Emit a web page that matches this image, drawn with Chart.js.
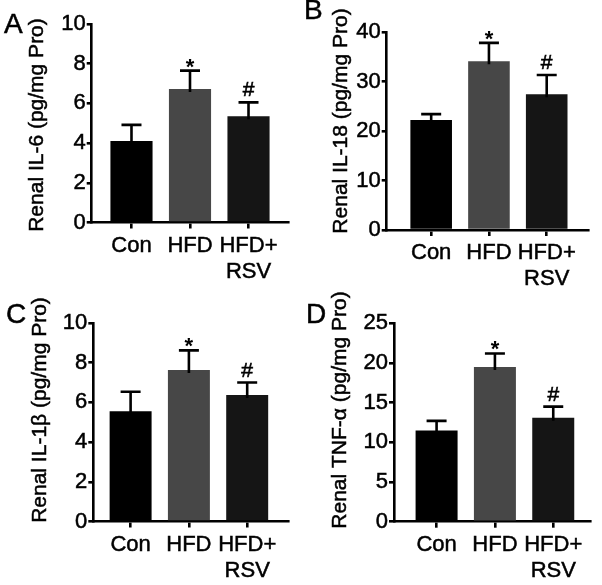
<!DOCTYPE html>
<html>
<head>
<meta charset="utf-8">
<script src="https://cdn.jsdelivr.net/npm/chart.js@4.4.0/dist/chart.umd.min.js"></script>
<style>
  html, body { margin: 0; padding: 0; background: #fff; }
  #wrap { position: relative; width: 602px; height: 585px; }
  #wrap canvas { position: absolute; }
</style>
</head>
<body>
<div id="wrap">
  <canvas id="chA" width="301" height="292" style="left:0;top:0"></canvas>
  <canvas id="chB" width="301" height="292" style="left:301px;top:0"></canvas>
  <canvas id="chC" width="301" height="293" style="left:0;top:292px"></canvas>
  <canvas id="chD" width="301" height="293" style="left:301px;top:292px"></canvas>
</div>
<script>
// ====== Datos ======
const categories = ['Con', 'HFD', ['HFD+', 'RSV']];
const marks = ['', '*', '#'];

const il6Mean  = [4.1, 6.72, 5.35];
const il6Sem   = [0.82, 0.93, 0.70];
const il6Ticks = [0, 2, 4, 6, 8, 10];

const il18Mean  = [22.2, 34.1, 27.4];
const il18Sem   = [1.2, 3.7, 3.9];
const il18Ticks = [0, 10, 20, 30, 40];

const il1bMean  = [5.56, 7.63, 6.37];
const il1bSem   = [0.98, 0.99, 0.63];
const il1bTicks = [0, 2, 4, 6, 8, 10];

const tnfMean  = [11.5, 19.5, 13.1];
const tnfSem   = [1.2, 1.7, 1.4];
const tnfTicks = [0, 5, 10, 15, 20, 25];

// ====== Estilo ======
const FONT = "'Liberation Sans', Arial, Helvetica, sans-serif";
Chart.defaults.font.family = FONT;
Chart.defaults.color = '#000';
const barColors = ['#000000', '#474747', '#151515'];
const LW = 2.6;
const TS = 0.5; // trazo extra del texto

// layout de cada panel (px dentro de su canvas)
const layoutA = { letter: 'A', lx: 4, ly: 33, tx: 37, ty: 125, left: 91.7, top: 24, bottom: 222.5, right: 288.3, xMin: 0.32, xMax: 3.68 };
const layoutB = { letter: 'B', lx: 3, ly: 19, tx: 40, ty: 121, left: 85.7, top: 32, bottom: 230, right: 287.3, xMin: 0.23, xMax: 3.72 };
const layoutC = { letter: 'C', lx: 6, ly: 31, tx: 40, ty: 118, left: 93.3, top: 31, bottom: 229.5, right: 288, xMin: 0.36, xMax: 3.70 };
const layoutD = { letter: 'D', lx: 5, ly: 31, tx: 39, ty: 118, left: 93, top: 31.3, bottom: 229.7, right: 289, xMin: 0.27, xMax: 3.63 };

function panel(id, p, title, means, sems, yTicks) {
  const canvas = document.getElementById(id);
  const W = canvas.width, H = canvas.height;

  const extras = {
    id: 'extras',
    afterDraw(chart) {
      const { ctx } = chart;
      const y = chart.scales.y;
      const bars = chart.getDatasetMeta(0).data;
      ctx.save();
      ctx.strokeStyle = '#000';
      ctx.fillStyle = '#000';
      bars.forEach((bar, i) => {
        const yMean = y.getPixelForValue(means[i]);
        const yTop = y.getPixelForValue(means[i] + sems[i]);
        ctx.lineWidth = LW;
        ctx.beginPath();
        ctx.moveTo(bar.x, yMean + 3);
        ctx.lineTo(bar.x, yTop);
        ctx.moveTo(bar.x - 10, yTop);
        ctx.lineTo(bar.x + 10, yTop);
        ctx.stroke();
        if (marks[i]) {
          ctx.textAlign = 'center';
          ctx.textBaseline = 'alphabetic';
          if (marks[i] === '*') {
            ctx.font = `bold 22px ${FONT}`;
            ctx.fillText('*', bar.x, yTop + 3);
          } else {
            ctx.font = `21px ${FONT}`;
            ctx.lineWidth = 0.6;
            ctx.fillText(marks[i], bar.x, yTop - 6);
            ctx.strokeText(marks[i], bar.x, yTop - 6);
          }
        }
      });
      ctx.lineWidth = TS;
      // letra del panel
      ctx.textAlign = 'left';
      ctx.textBaseline = 'alphabetic';
      ctx.font = `28px ${FONT}`;
      ctx.fillText(p.letter, p.lx, p.ly);
      ctx.strokeText(p.letter, p.lx, p.ly);
      // titulo del eje y
      ctx.translate(p.tx, p.ty);
      ctx.rotate(-Math.PI / 2);
      ctx.textAlign = 'center';
      ctx.textBaseline = 'middle';
      ctx.font = `21px ${FONT}`;
      ctx.fillText(title, 0, 0);
      ctx.strokeText(title, 0, 0);
      ctx.restore();
    }
  };

  return new Chart(canvas, {
    type: 'bar',
    data: {
      datasets: [{
        data: means.map((v, i) => ({ x: i + 1, y: v })),
        backgroundColor: barColors,
        borderWidth: 0,
        categoryPercentage: 1,
        barPercentage: 0.72
      }]
    },
    options: {
      responsive: false,
      animation: false,
      devicePixelRatio: 1,
      layout: { padding: { top: p.top, right: W - p.right, bottom: 0, left: 0 } },
      plugins: { legend: { display: false }, tooltip: { enabled: false } },
      scales: {
        x: {
          type: 'linear', min: p.xMin, max: p.xMax, offset: false, z: 1,
          afterFit: s => { s.height = H - p.bottom; },
          grid: { drawOnChartArea: false, drawTicks: true, tickLength: 6, lineWidth: LW, color: '#000', offset: false },
          border: { display: true, color: '#000', width: LW },
          ticks: {
            stepSize: 1, includeBounds: false, autoSkip: false, maxRotation: 0, padding: 4,
            font: { size: 22, lineHeight: 1.18 }, color: '#000',
            textStrokeColor: '#000', textStrokeWidth: TS,
            callback: v => categories[v - 1] ?? ''
          }
        },
        y: {
          min: yTicks[0], max: yTicks[yTicks.length - 1], z: 1,
          afterFit: s => { s.width = p.left; },
          grid: { drawOnChartArea: false, tickLength: 5, lineWidth: LW, color: '#000' },
          border: { color: '#000', width: LW },
          ticks: {
            stepSize: yTicks[1] - yTicks[0], padding: 1, font: { size: 22 }, color: '#000',
            textStrokeColor: '#000', textStrokeWidth: TS
          }
        }
      }
    },
    plugins: [extras]
  });
}

panel('chA', layoutA, 'Renal IL-6 (pg/mg Pro)', il6Mean, il6Sem, il6Ticks);
panel('chB', layoutB, 'Renal IL-18 (pg/mg Pro)', il18Mean, il18Sem, il18Ticks);
panel('chC', layoutC, 'Renal IL-1\u03B2 (pg/mg Pro)', il1bMean, il1bSem, il1bTicks);
panel('chD', layoutD, 'Renal TNF-\u03B1 (pg/mg Pro)', tnfMean, tnfSem, tnfTicks);
</script>
</body>
</html>
